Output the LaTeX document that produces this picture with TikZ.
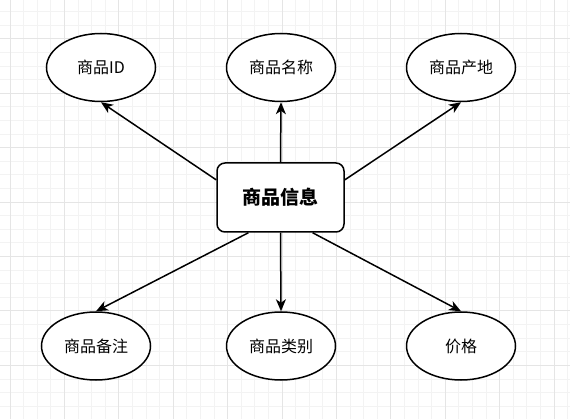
\documentclass[tikz,border=0pt]{standalone}
\usepackage{fontspec}
\setmainfont{Noto Sans CJK SC}
\usepackage{tikz}
\usetikzlibrary{shapes.geometric}
\usetikzlibrary{arrows.meta,calc}
\definecolor{gridminor}{HTML}{F3F3F3}
\definecolor{gridmajor}{HTML}{E5E5E5}
\tikzset{attr/.style={ellipse, draw=black, line width=1.5pt, fill=white, minimum width=109pt, minimum height=68pt, inner sep=0pt, font=\fontsize{16}{19}\selectfont},
%the entity in the middle
entity/.style={rectangle, rounded corners=8pt, draw=black, line width=1.5pt, fill=white, minimum width=127pt, minimum height=69pt, font=\fontsize{19}{23}\selectfont\bfseries},
link/.style={-{Stealth[length=12pt,width=10pt,inset=3.5pt]}, line width=1.5pt}}

\begin{document}
\begin{tikzpicture}[x=1pt,y=-1pt]
\useasboundingbox (0,0) rectangle (570,419);
\begin{scope}
\clip (0,0) rectangle (570,419);
% grid
\foreach \i in {0,...,42}
     \draw[gridminor, line width=1pt] ({-3.6+\i*13.6},0) -- ++(0,419);
\foreach \i in {0,...,31}
     \draw[gridminor, line width=1pt] (0,{-1.8+\i*13.6}) -- ++(570,0);
\foreach \i in {0,...,10}
     \draw[gridmajor, line width=1pt] ({10+\i*54.4},0) -- ++(0,419);
\foreach \i in {-1,...,7}
     \draw[gridmajor, line width=1pt] (0,{39+\i*54.4}) -- ++(570,0);
\end{scope}

\node[entity] (info) at (280.5,197.5) {商品信息};

% attributes
\node[attr] (id) at (101,67.5) {商品ID};
\node[attr] (name) at (281,67.5) {商品名称};
\node[attr] (origin) at (461,67.5) {商品产地};
\node[attr] (note) at (96,346) {商品备注};
\node[attr] (kind) at (281,346) {商品类别};
\node[attr] (price) at (461,346) {价格};

%links
\draw[link] ($(info.north west)!0.25!(info.south west)$) -- (id.south);
\draw[link] (info.north) -- (name.south);
\draw[link] ($(info.north east)!0.25!(info.south east)$) -- (origin.south);
\draw[link] ($(info.south west)!0.25!(info.south east)$) -- (note.north);
\draw[link] (info.south) -- (kind.north);
\draw[link] ($(info.south west)!0.75!(info.south east)$) -- (price.north);

\end{tikzpicture}
\end{document}
